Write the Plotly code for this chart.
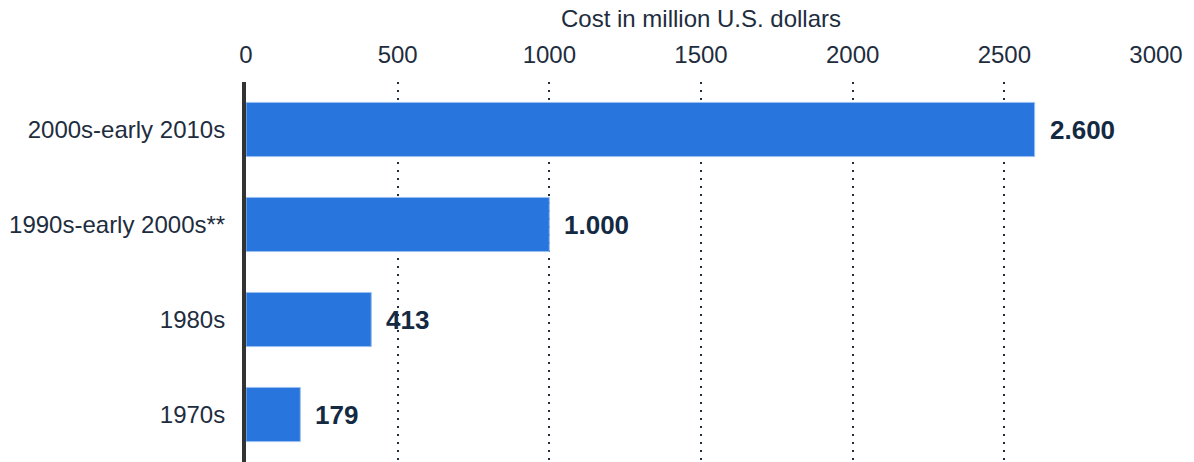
import plotly.graph_objects as go

periods = ["2000s-early 2010s", "1990s-early 2000s**", "1980s", "1970s"]
cost_musd = [2600, 1000, 413, 179]
x_ticks = [0, 500, 1000, 1500, 2000, 2500, 3000]

def fmt(v):
    return f"{v:,}".replace(",", ".")

labels = [fmt(v) for v in cost_musd]

FONT = "Liberation Sans, Arial, sans-serif"
TEXT = "#1e2d3e"

fig = go.Figure()
fig.add_trace(go.Bar(
    y=periods,
    x=cost_musd,
    orientation="h",
    width=0.57,
    marker=dict(color="#2876dd", line=dict(color="#9cc0f0", width=1)),
    hoverinfo="skip",
))

for p, v, t in zip(periods, cost_musd, labels):
    fig.add_annotation(
        x=v, y=p, text=f"<b>{t}</b>", showarrow=False,
        xanchor="left", xshift=13,
        font=dict(family=FONT, size=26, color="#142a42"),
    )

fig.update_layout(
    width=1194, height=462,
    margin=dict(l=246, r=38, t=82, b=0),
    paper_bgcolor="white", plot_bgcolor="white",
    showlegend=False,
    font=dict(family=FONT, color=TEXT),
)
fig.update_xaxes(
    side="top",
    range=[0, 3000],
    tickvals=x_ticks,
    ticktext=[str(v) for v in x_ticks],
    tickfont=dict(size=24, color=TEXT),
    ticklabelstandoff=13,
    title=dict(text="Cost in million U.S. dollars", font=dict(size=24, color=TEXT), standoff=6),
    showgrid=True, gridcolor="#1e2d3e", griddash="2px,6px", gridwidth=2,
    zeroline=False, showline=False, ticks="",
)
fig.update_yaxes(
    categoryorder="array", categoryarray=periods[::-1],
    tickfont=dict(size=24, color=TEXT), ticks="",
    ticklabelstandoff=12,
    showline=True, linecolor="#333333", linewidth=4,
    showgrid=False, zeroline=False,
)

fig.write_html("out.html")
